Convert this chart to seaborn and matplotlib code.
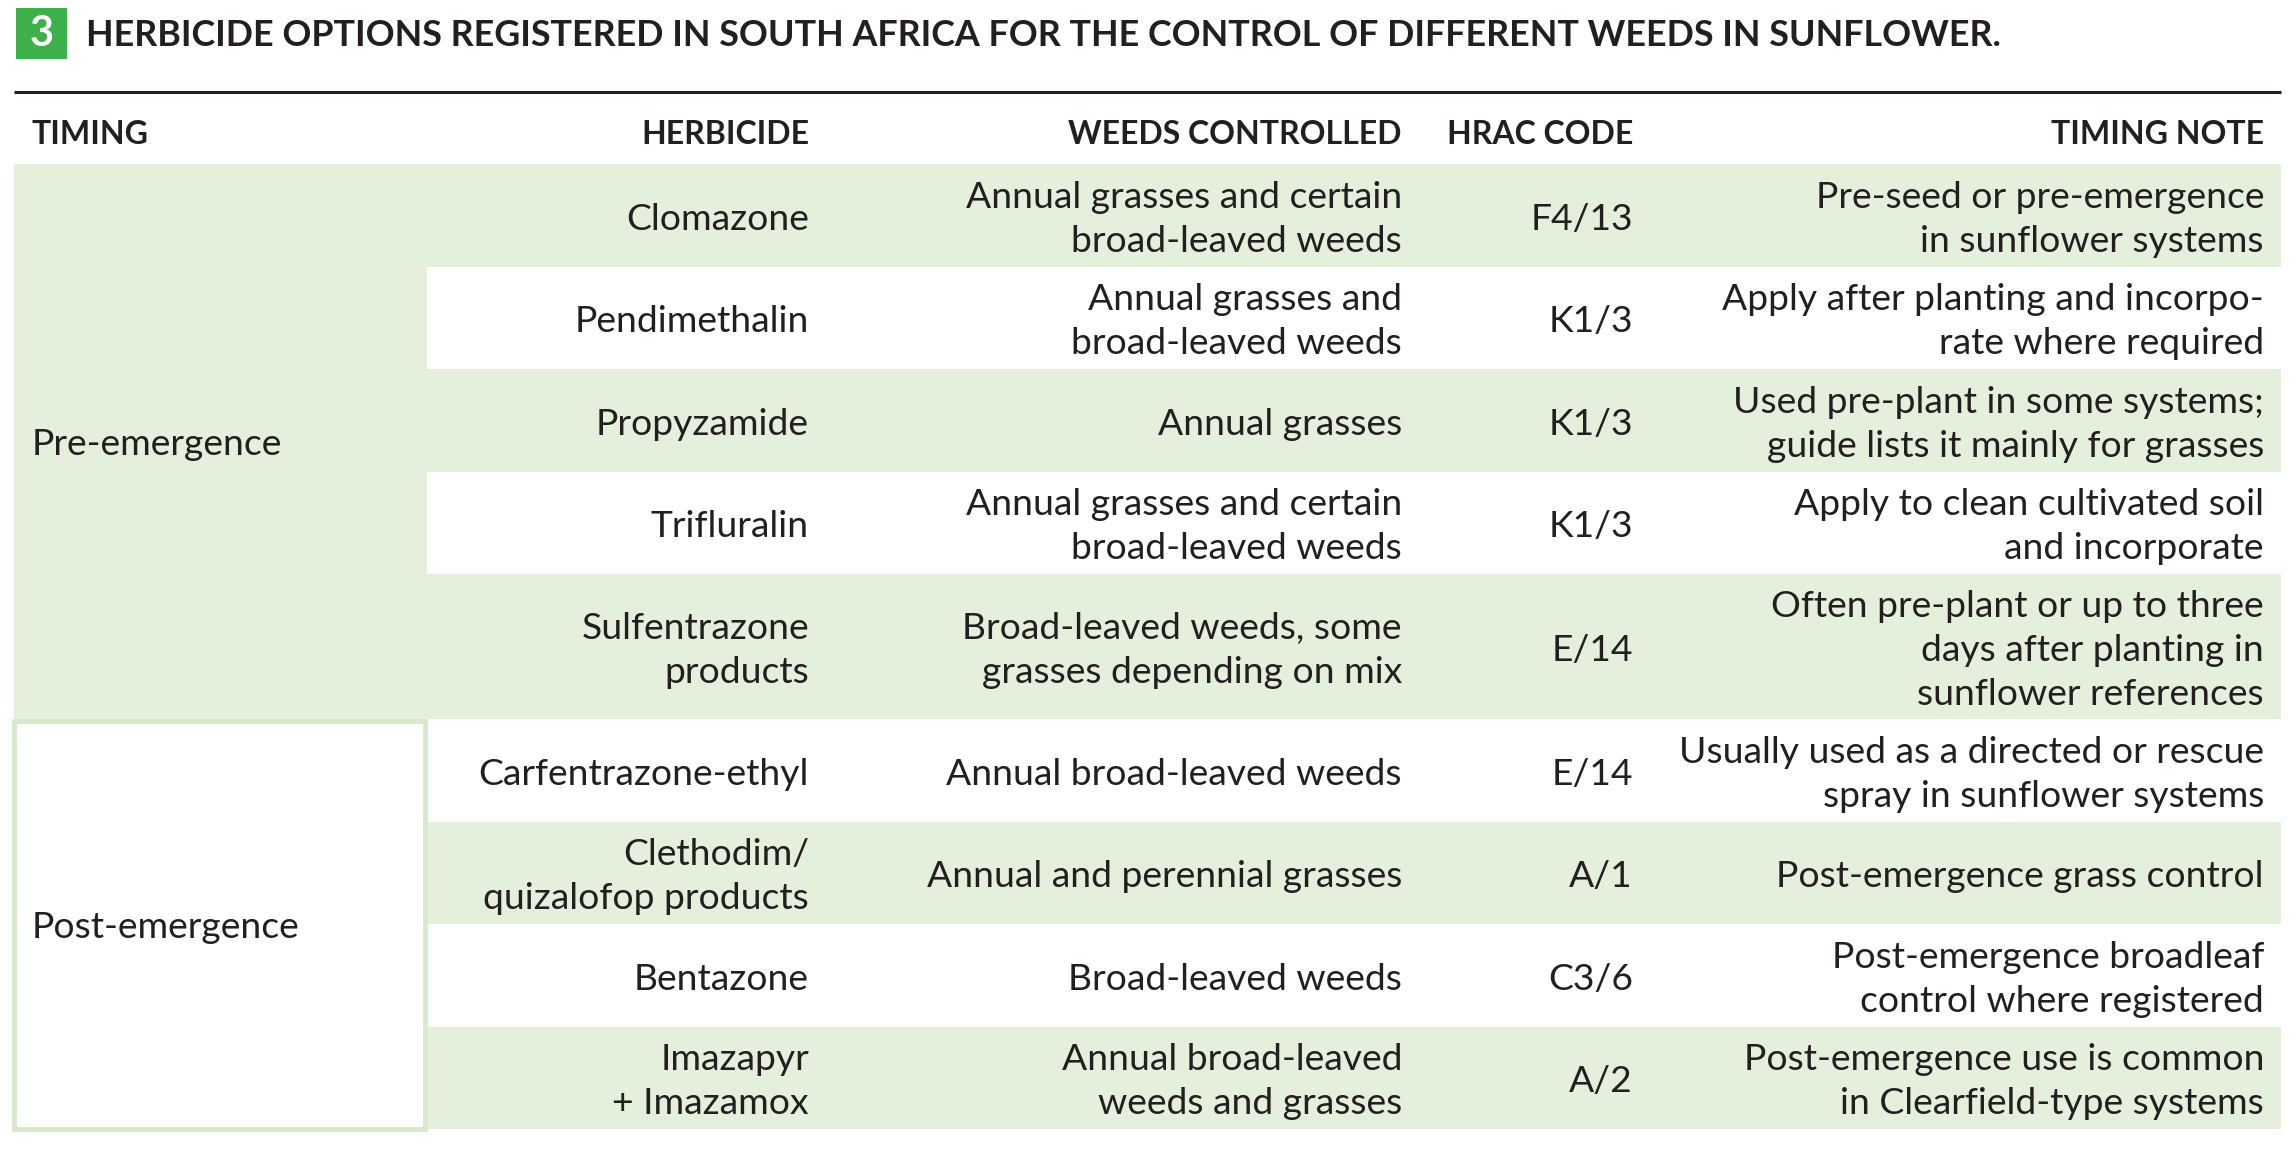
#!/usr/bin/env python3
"""
Herbicide options table for sunflower (South Africa), drawn as a figure.
"""

import matplotlib
matplotlib.use("Agg")
import matplotlib.pyplot as plt
from matplotlib.patches import Rectangle
import seaborn as sns

# ============================================
# Data
# ============================================
TITLE = "HERBICIDE OPTIONS REGISTERED IN SOUTH AFRICA FOR THE CONTROL OF DIFFERENT WEEDS IN SUNFLOWER."
BADGE = "3"

columns = ["TIMING", "HERBICIDE", "WEEDS CONTROLLED", "HRAC CODE", "TIMING NOTE"]

timing_groups = ["Pre-emergence", "Post-emergence"]
group_sizes = [5, 4]

herbicides = [
    "Clomazone",
    "Pendimethalin",
    "Propyzamide",
    "Trifluralin",
    "Sulfentrazone\nproducts",
    "Carfentrazone-ethyl",
    "Clethodim/\nquizalofop products",
    "Bentazone",
    "Imazapyr\n+ Imazamox",
]

weeds = [
    "Annual grasses and certain\nbroad-leaved weeds",
    "Annual grasses and\nbroad-leaved weeds",
    "Annual grasses",
    "Annual grasses and certain\nbroad-leaved weeds",
    "Broad-leaved weeds, some\ngrasses depending on mix",
    "Annual broad-leaved weeds",
    "Annual and perennial grasses",
    "Broad-leaved weeds",
    "Annual broad-leaved\nweeds and grasses",
]

hrac_codes = ["F4/13", "K1/3", "K1/3", "K1/3", "E/14", "E/14", "A/1", "C3/6", "A/2"]

timing_notes = [
    "Pre-seed or pre-emergence\nin sunflower systems",
    "Apply after planting and incorpo-\nrate where required",
    "Used pre-plant in some systems;\nguide lists it mainly for grasses",
    "Apply to clean cultivated soil\nand incorporate",
    "Often pre-plant or up to three\ndays after planting in\nsunflower references",
    "Usually used as a directed or rescue\nspray in sunflower systems",
    "Post-emergence grass control",
    "Post-emergence broadleaf\ncontrol where registered",
    "Post-emergence use is common\nin Clearfield-type systems",
]

# ============================================
# Style / layout (pixels)
# ============================================
W, H = 2295, 1152
GREEN_BG = "#e4f0dc"
GREEN_EDGE = "#d8eacd"
BADGE_GREEN = "#3eb04a"
INK = "#231f20"

sns.set_theme(style="white")
plt.rcParams["font.family"] = ["Lato", "DejaVu Sans"]

LEFT, RIGHT = 14, 2281
TIMING_RIGHT = 427
TABLE_TOP = 164
ROW_LINE = 42.5   # row height per text line
ROW_PAD = 17.5
TEXT_LINE = 44    # baseline-to-baseline spacing inside a cell
col_x = [32, 809, 1402, 1633, 2264]
BODY_PT = 26.8
HEAD_PT = 23
TITLE_PT = 25.8

fig = plt.figure(figsize=(W / 100, H / 100), dpi=100)
ax = fig.add_axes([0, 0, 1, 1])
ax.set_xlim(0, W)
ax.set_ylim(H, 0)
ax.axis("off")

# --- title + badge ---
ax.add_patch(Rectangle((16, 8), 51, 51, color=BADGE_GREEN, lw=0))
ax.text(41.5, 34, BADGE, color="white", fontsize=30, fontweight="bold",
        ha="center", va="center")
ax.text(86, 35, TITLE, color=INK, fontsize=TITLE_PT, fontweight="bold",
        ha="left", va="center")
ax.plot([LEFT, RIGHT], [91.5, 91.5], color=INK, lw=2.2, solid_capstyle="butt")

# --- header ---
for i, name in enumerate(columns):
    ax.text(col_x[i], 135, name, color=INK, fontsize=HEAD_PT, fontweight="bold",
            ha="left" if i == 0 else "right", va="center")

# --- row geometry from line counts ---
n_lines = [max(2, *(len(c[i].split("\n")) for c in (herbicides, weeds, timing_notes)))
           for i in range(len(herbicides))]
heights = [n * ROW_LINE + ROW_PAD for n in n_lines]
tops = [TABLE_TOP]
for h in heights[:-1]:
    tops.append(tops[-1] + h)
centers = [t + h / 2 for t, h in zip(tops, heights)]

# alternating row shading (rows 1,3,5,...)
shaded = [i for i in range(len(herbicides)) if i % 2 == 0]
ax.barh([centers[i] for i in shaded], RIGHT - TIMING_RIGHT,
        height=[heights[i] for i in shaded], left=TIMING_RIGHT,
        color=GREEN_BG, linewidth=0)

# timing group cells
start = 0
for g, (label, size) in enumerate(zip(timing_groups, group_sizes)):
    top = tops[start]
    bottom = tops[start + size - 1] + heights[start + size - 1]
    if g == 0:
        ax.add_patch(Rectangle((LEFT, top), TIMING_RIGHT - LEFT, bottom - top,
                               facecolor=GREEN_BG, lw=0))
    else:
        ax.add_patch(Rectangle((LEFT, top + 2), TIMING_RIGHT - LEFT - 2, bottom - top - 2,
                               facecolor="white", edgecolor=GREEN_EDGE, lw=3.5))
    ax.text(col_x[0], (top + bottom) / 2, label, color=INK, fontsize=BODY_PT,
            ha="left", va="center_baseline")
    start += size


def cell(x, yc, s):
    lines = s.split("\n")
    y0 = yc - (len(lines) - 1) * TEXT_LINE / 2
    for k, line in enumerate(lines):
        ax.text(x, y0 + k * TEXT_LINE, line, color=INK, fontsize=BODY_PT,
                ha="right", va="center_baseline")


for i in range(len(herbicides)):
    yc = centers[i] + 1
    cell(col_x[1], yc, herbicides[i])
    cell(col_x[2], yc, weeds[i])
    cell(col_x[3], yc, hrac_codes[i])
    cell(col_x[4], yc, timing_notes[i])

fig.savefig("out.png", dpi=100, facecolor="white")
